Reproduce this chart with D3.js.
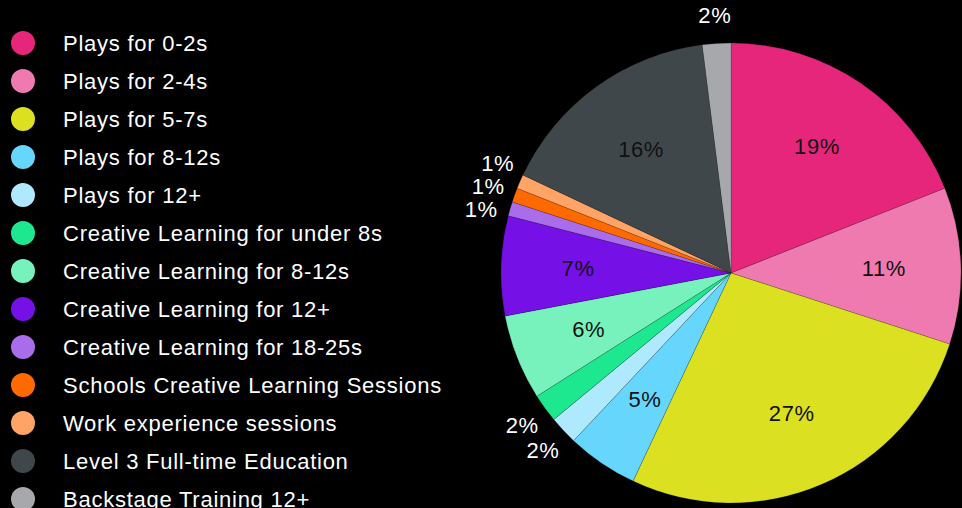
<!DOCTYPE html>
<html>
<head>
<meta charset="utf-8">
<script src="https://cdn.jsdelivr.net/npm/d3@7"></script>
<style>
  body { margin: 0; background: #000; }
  svg { display: block; font-family: "Liberation Sans", Arial, sans-serif; }
</style>
</head>
<body>
<svg width="962" height="508"></svg>
<script>
// data
var categories = ["Plays for 0-2s", "Plays for 2-4s", "Plays for 5-7s", "Plays for 8-12s",
  "Plays for 12+", "Creative Learning for under 8s", "Creative Learning for 8-12s",
  "Creative Learning for 12+", "Creative Learning for 18-25s", "Schools Creative Learning Sessions",
  "Work experience sessions", "Level 3 Full-time Education", "Backstage Training 12+"];
var values = [19, 11, 27, 5, 2, 2, 6, 7, 1, 1, 1, 16, 2];
var colors = ["#e5267a", "#ef7aaf", "#dbe021", "#66d6fc", "#aee9fd", "#1de88f", "#77f2bd",
  "#7510e6", "#a96ceb", "#ff6a00", "#ffa366", "#40474b", "#a6a8ab"];

var svg = d3.select("svg"),
    cx = 731, cy = 273, radius = 230;

var color = d3.scaleOrdinal().domain(categories).range(colors);

// legend
var legend = svg.append("g").attr("transform", "translate(23,43)");
var item = legend.selectAll("g")
  .data(categories)
  .enter().append("g")
  .attr("transform", function(d, i) { return "translate(0," + i * 38 + ")"; });
item.append("circle")
  .attr("r", 12)
  .attr("fill", function(d) { return color(d); });
item.append("text")
  .attr("x", 40)
  .attr("dy", "0.36em")
  .attr("fill", "#fff")
  .style("font-size", "22px")
  .style("letter-spacing", "0.75px")
  .text(function(d) { return d; });

// pie
var pie = d3.pie().sort(null).value(function(d) { return d.value; });
var arcs = pie(categories.map(function(c, i) { return {name: c, value: values[i]}; }));
var arc = d3.arc().innerRadius(0).outerRadius(radius);
var inLabel = d3.arc().innerRadius(153).outerRadius(153);
var outR = 258;
var outLabel = d3.arc().innerRadius(outR).outerRadius(outR);

var g = svg.append("g").attr("transform", "translate(" + cx + "," + cy + ")");

g.selectAll("path")
  .data(arcs)
  .enter().append("path")
  .attr("d", arc)
  .attr("fill", function(d) { return color(d.data.name); })
  .attr("stroke", "rgba(0,0,0,0.25)")
  .attr("stroke-width", 0.6);

// labels: big slices inside, small ones outside
var inside = arcs.filter(function(d) { return d.data.value > 2; });
var outside = arcs.filter(function(d) { return d.data.value <= 2; });

g.selectAll("text.in")
  .data(inside)
  .enter().append("text")
  .attr("class", "in")
  .attr("transform", function(d) { return "translate(" + inLabel.centroid(d) + ")"; })
  .attr("text-anchor", "middle")
  .attr("dy", "0.36em")
  .attr("fill", "#111")
  .style("font-size", "22px")
  .style("letter-spacing", "0.6px")
  .text(function(d) { return d.data.value + "%"; });

// spread the outside labels so they don't overlap
var pos = outside.map(function(d) { var c = outLabel.centroid(d); return {d: d, x: c[0], y: c[1]}; });
for (var k = 0; k < 50; k++) {
  pos.sort(function(a, b) { return a.y - b.y; });
  for (var i = 1; i < pos.length; i++) {
    var a = pos[i - 1], b = pos[i];
    if (Math.abs(a.x - b.x) < 60 && b.y - a.y < 23) {
      var push = (23 - (b.y - a.y)) / 2;
      a.y -= push; b.y += push;
    }
  }
}
pos.forEach(function(p) { p.x = -Math.sqrt(Math.max(0, outR * outR - p.y * p.y)) * (p.x < 0 ? 1 : -1); });

g.selectAll("text.out")
  .data(pos)
  .enter().append("text")
  .attr("class", "out")
  .attr("x", function(p) { return p.x; })
  .attr("y", function(p) { return p.y; })
  .attr("text-anchor", "middle")
  .attr("dy", "0.36em")
  .attr("fill", "#fff")
  .style("font-size", "22px")
  .style("letter-spacing", "0.6px")
  .text(function(p) { return p.d.data.value + "%"; });
</script>
</body>
</html>
